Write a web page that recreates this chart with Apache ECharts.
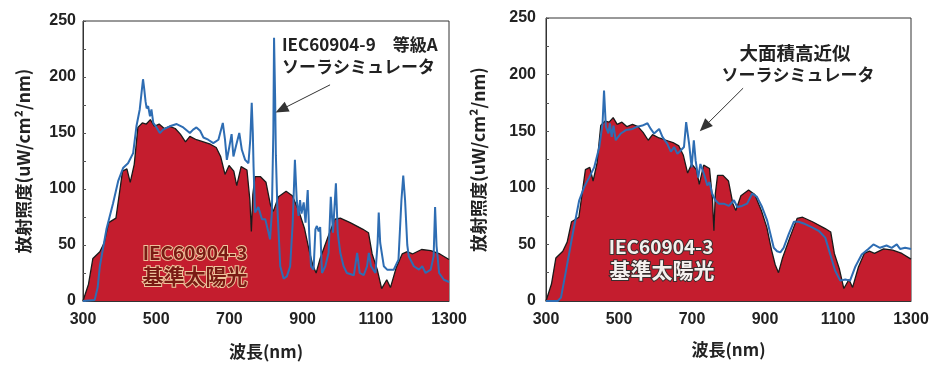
<!DOCTYPE html>
<html>
<head>
<meta charset="utf-8">
<script src="https://cdn.jsdelivr.net/npm/echarts@6/dist/echarts.min.js"></script>
<style>
  html, body { margin: 0; padding: 0; background: #ffffff; }
  #chart { width: 936px; height: 365px; }
</style>
</head>
<body>
<div id="chart"></div>
<script>
// IEC 60904-3 reference solar spectrum (AM1.5G), uW/cm^2/nm
const refWavelength = [300, 315, 327, 346, 358, 370, 390, 408, 420, 429, 440, 450, 462, 473, 484, 495, 508, 522, 537, 552, 566, 580, 592, 610, 629, 648, 664, 676, 688, 699, 712, 720, 732, 748, 756, 760, 764, 770, 785, 800, 812, 820, 834, 855, 872, 890, 905, 918, 928, 937, 948, 968, 988, 1003, 1030, 1065, 1080, 1090, 1104, 1116, 1130, 1140, 1156, 1172, 1186, 1200, 1225, 1250, 1275, 1300];
const refIrradiance = [0, 15, 38, 44, 52, 70, 74, 116, 118, 106, 122, 155, 159, 158, 162, 156, 158, 154, 156, 154, 149, 142, 147, 144, 142, 140, 137, 129, 113, 121, 116, 103, 120, 117, 90, 62, 95, 111, 111, 106, 86, 80, 93, 98, 94, 80, 65, 45, 32, 25, 38, 56, 73, 74, 70, 64, 61, 42, 28, 11, 19, 12, 30, 42, 44, 42, 46, 45, 42, 37];

// IEC 60904-9 class A solar simulator
const simAWavelength = [300, 332, 340, 346, 364, 382, 396, 410, 423, 437, 446, 455, 460, 464, 467, 471, 474, 478, 483, 487, 492, 501, 510, 519, 537, 556, 574, 592, 601, 610, 620, 629, 642, 656, 670, 682, 688, 693, 700, 706, 711, 720, 727, 734, 743, 752, 757, 761, 764, 766, 770, 779, 789, 798, 807, 811, 816, 820, 822, 825, 827, 831, 839, 848, 857, 866, 873, 879, 884, 889, 893, 897, 903, 908, 914, 918, 923, 930, 935, 939, 944, 948, 953, 962, 971, 977, 983, 991, 996, 1003, 1012, 1021, 1040, 1049, 1056, 1067, 1076, 1081, 1087, 1099, 1105, 1108, 1112, 1122, 1131, 1149, 1162, 1170, 1175, 1180, 1186, 1190, 1204, 1218, 1227, 1236, 1250, 1258, 1262, 1266, 1273, 1286, 1300];
const simAIrradiance = [0, 1, 12, 31, 64, 87, 107, 119, 123, 132, 156, 171, 186, 198, 190, 178, 172, 174, 165, 171, 159, 155, 150, 153, 156, 158, 155, 150, 153, 155, 152, 146, 144, 141, 144, 159, 144, 126, 138, 149, 129, 141, 150, 135, 126, 123, 144, 177, 150, 120, 79, 84, 73, 73, 61, 55, 79, 150, 235, 180, 130, 84, 31, 20, 22, 31, 70, 126, 90, 76, 90, 78, 88, 70, 99, 60, 31, 28, 64, 67, 62, 66, 25, 31, 43, 93, 61, 105, 61, 43, 31, 25, 23, 43, 25, 23, 31, 43, 31, 25, 52, 79, 52, 31, 28, 28, 37, 90, 112, 90, 50, 40, 31, 28, 31, 25, 28, 40, 84, 49, 25, 19, 17];

// Large-area, high-fidelity solar simulator
const simBWavelength = [300, 332, 341, 355, 373, 391, 405, 418, 432, 446, 455, 459, 464, 471, 475, 480, 485, 491, 505, 519, 537, 550, 564, 578, 587, 596, 610, 619, 632, 642, 651, 660, 669, 678, 684, 692, 699, 705, 710, 717, 723, 733, 742, 748, 755, 764, 774, 787, 801, 815, 824, 837, 851, 865, 878, 892, 906, 915, 924, 933, 942, 951, 965, 979, 992, 1010, 1029, 1047, 1065, 1079, 1092, 1106, 1120, 1133, 1147, 1165, 1183, 1197, 1215, 1233, 1247, 1261, 1270, 1284, 1300];
const simBIrradiance = [0, 0, 3, 27, 59, 89, 101, 109, 118, 136, 157, 186, 154, 148, 157, 145, 155, 142, 148, 151, 152, 154, 155, 157, 152, 148, 152, 145, 139, 132, 136, 130, 133, 136, 158, 139, 118, 142, 124, 109, 121, 112, 102, 105, 95, 89, 86, 86, 84, 89, 83, 84, 86, 95, 92, 83, 71, 59, 47, 44, 43, 47, 59, 70, 70, 68, 65, 62, 56, 41, 27, 18, 19, 18, 30, 41, 46, 50, 47, 49, 47, 50, 46, 47, 46];

// Axis tick labels
const xTickLabels = [300, 500, 700, 900, 1100, 1300];
const yTickLabels = [0, 50, 100, 150, 200, 250];

const zip = (xs, ys) => xs.map((x, i) => [x, ys[i]]);

const RED = '#c41d2e';
const BLUE = '#2e6db3';
const FONT = '"Liberation Sans", Arial, sans-serif';
const JP = '"Noto Sans CJK JP", sans-serif';

function xAxis(gridIndex, gap) {
  return {
    type: 'value', gridIndex, min: 300, max: 1300, interval: 100,
    name: '波長(nm)', nameLocation: 'middle', nameGap: gap,
    nameTextStyle: { fontFamily: JP, fontSize: 17, fontWeight: 'bold', color: '#222' },
    axisLine: { show: true, onZero: false, lineStyle: { color: '#333', width: 1 } },
    axisTick: { show: false },
    splitLine: { show: false },
    axisLabel: {
      fontFamily: FONT, fontSize: 16, fontWeight: 'bold', color: '#222', margin: 11,
      formatter: v => xTickLabels.includes(v) ? String(v) : ''
    }
  };
}

function yAxis(gridIndex, gap, labelMargin) {
  return {
    type: 'value', gridIndex, min: 0, max: 250, interval: 25,
    name: '放射照度(uW/cm²/nm)', nameLocation: 'middle', nameGap: gap, nameRotate: 90,
    nameTextStyle: { fontFamily: JP, fontSize: 17.5, fontWeight: 'bold', color: '#222' },
    axisLine: { show: true, lineStyle: { color: '#333', width: 1 } },
    axisTick: { show: true, inside: true, length: 3, lineStyle: { color: '#555' } },
    splitLine: { show: false },
    axisLabel: {
      fontFamily: FONT, fontSize: 16, fontWeight: 'bold', color: '#222', margin: labelMargin,
      formatter: v => yTickLabels.includes(v) ? String(v) : ''
    }
  };
}

function refSeries(i) {
  return {
    type: 'line', xAxisIndex: i, yAxisIndex: i, symbol: 'none', silent: true,
    data: zip(refWavelength, refIrradiance),
    lineStyle: { color: '#1a1a1a', width: 1.3 },
    areaStyle: { color: RED, opacity: 1 },
    z: 2
  };
}

function simSeries(i, xs, ys, arrow) {
  return {
    type: 'line', xAxisIndex: i, yAxisIndex: i, symbol: 'none', silent: true,
    data: zip(xs, ys),
    lineStyle: { color: BLUE, width: 2 },
    z: 3,
    markLine: {
      silent: true, symbol: ['none', 'triangle'], symbolSize: [11, 13],
      label: { show: false },
      lineStyle: { color: '#333', width: 1, type: 'solid' },
      itemStyle: { color: '#555' },
      data: [[{ coord: arrow[0] }, { coord: arrow[1] }]]
    }
  };
}

function label(x, y, text, style) {
  return { type: 'text', x, y, z: 100, style: Object.assign({ text, textAlign: 'center', textVerticalAlign: 'middle' }, style) };
}

const noteStyle = { fontFamily: JP, fontSize: 17, fontWeight: 'bold', fill: '#222' };
const refLeftStyle = { fontFamily: JP, fontSize: 19, fontWeight: 'bold', fill: '#7a1a14', stroke: '#eec49c', lineWidth: 2 };
const refRightStyle = { fontFamily: JP, fontSize: 19, fontWeight: 'bold', fill: '#f4f0ee', stroke: '#3a2e2e', lineWidth: 2 };

const chart = echarts.init(document.getElementById('chart'), null, { renderer: 'canvas' });
chart.setOption({
  backgroundColor: '#ffffff',
  animation: false,
  grid: [
    { left: 83, top: 21, width: 366, height: 280, show: true, borderColor: '#333', borderWidth: 1, backgroundColor: 'transparent' },
    { left: 546, top: 18, width: 365, height: 283, show: true, borderColor: '#333', borderWidth: 1, backgroundColor: 'transparent' }
  ],
  xAxis: [xAxis(0, 42), xAxis(1, 40)],
  yAxis: [yAxis(0, 51, 7), yAxis(1, 59, 10)],
  series: [
    refSeries(0),
    simSeries(0, simAWavelength, simAIrradiance, [[975, 193], [842, 171]]),
    refSeries(1),
    simSeries(1, simBWavelength, simBIrradiance, [[840, 188], [734, 154]])
  ],
  graphic: [
    { type: 'text', x: 282, y: 45, z: 100, style: Object.assign({ text: 'IEC60904-9　等級A', textAlign: 'left', textVerticalAlign: 'middle' }, noteStyle) },
    { type: 'text', x: 282, y: 67, z: 100, style: Object.assign({ text: 'ソーラシミュレータ', textAlign: 'left', textVerticalAlign: 'middle' }, noteStyle) },
    label(795, 53, '大面積高近似', Object.assign({}, noteStyle, { fontSize: 18.5 })),
    label(798, 75, 'ソーラシミュレータ', noteStyle),
    label(195, 253, 'IEC60904-3', refLeftStyle),
    label(195, 276, '基準太陽光', Object.assign({}, refLeftStyle, { fontSize: 21 })),
    label(661, 247, 'IEC60904-3', refRightStyle),
    label(662, 270, '基準太陽光', Object.assign({}, refRightStyle, { fontSize: 21 }))
  ]
});
</script>
</body>
</html>
